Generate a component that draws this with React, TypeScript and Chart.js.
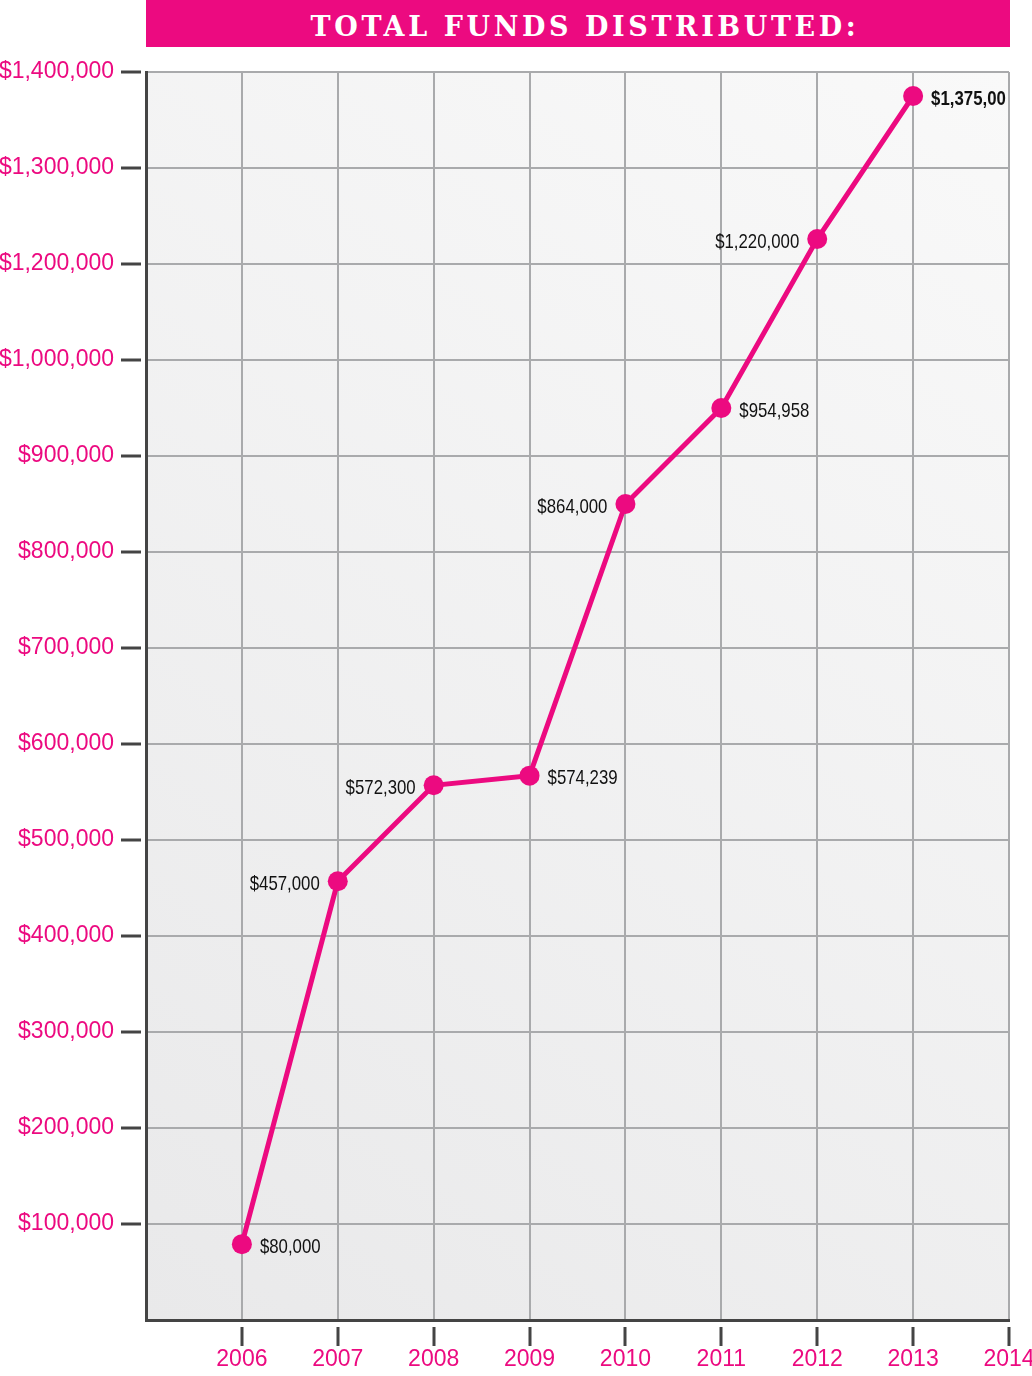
import React, { useEffect, useRef } from "react";
import { Chart, registerables } from "chart.js";

Chart.register(...registerables);

// ---- data ----
const years = [2006, 2007, 2008, 2009, 2010, 2011, 2012, 2013];
// positions, in the axis' own (linear) units
const plottedValues = [79000, 457000, 557000, 567000, 850000, 950000, 1126000, 1275000];
// annotation texts as printed on the chart
const valueLabels = [
  "$80,000",
  "$457,000",
  "$572,300",
  "$574,239",
  "$864,000",
  "$954,958",
  "$1,220,000",
  "$1,375,00",
];
const labelSides = ["right", "left", "left", "right", "left", "right", "left", "right"];
// tick labels exactly as printed (note: the original skips $1,100,000)
const yTickLabels = [
  "$100,000",
  "$200,000",
  "$300,000",
  "$400,000",
  "$500,000",
  "$600,000",
  "$700,000",
  "$800,000",
  "$900,000",
  "$1,000,000",
  "$1,200,000",
  "$1,300,000",
  "$1,400,000",
];
const xTickLabels = ["2006", "2007", "2008", "2009", "2010", "2011", "2012", "2013", "2014"];

const PINK = "#ec0a80";
const GRID = "#a9aaac";
const AXIS = "#444444";

const bgPlugin = {
  id: "plotBg",
  beforeDraw(chart: any) {
    const { ctx, chartArea: a } = chart;
    if (!a) return;
    const g = ctx.createLinearGradient(a.right, a.top, a.left, a.bottom);
    g.addColorStop(0, "#f9f9f9");
    g.addColorStop(1, "#e9e9ea");
    ctx.save();
    ctx.fillStyle = g;
    ctx.fillRect(a.left, a.top, a.right - a.left, a.bottom - a.top);
    ctx.restore();
  },
};

const labelPlugin = {
  id: "valueLabels",
  afterDatasetsDraw(chart: any) {
    const { ctx } = chart;
    const meta = chart.getDatasetMeta(0);
    meta.data.forEach((pt: any, i: number) => {
      const bold = i === valueLabels.length - 1;
      const side = labelSides[i];
      const dx = side === "right" ? 18 : -18;
      ctx.save();
      ctx.fillStyle = "#111111";
      ctx.textBaseline = "middle";
      ctx.font = `${bold ? "bold " : ""}21px "Liberation Sans", Arial, sans-serif`;
      ctx.textAlign = side === "right" ? "left" : "right";
      ctx.translate(pt.x + dx, pt.y + 3);
      ctx.scale(0.8, 1);
      ctx.fillText(valueLabels[i], 0, 0);
      ctx.restore();
    });
  },
};

function FundsChart() {
  const ref = useRef<HTMLCanvasElement | null>(null);
  useEffect(() => {
    if (!ref.current) return;
    const chart = new Chart(ref.current, {
      type: "line",
      data: {
        datasets: [
          {
            data: years.map((y, i) => ({ x: y, y: plottedValues[i] })),
            borderColor: PINK,
            backgroundColor: PINK,
            borderWidth: 5,
            pointRadius: 10,
            pointBackgroundColor: PINK,
            pointBorderWidth: 0,
            tension: 0,
            clip: false as any,
          },
        ],
      },
      options: {
        animation: false,
        responsive: false,
        devicePixelRatio: 1,
        layout: { padding: { top: 72, right: 23, left: 0, bottom: 0 } },
        plugins: {
          legend: { display: false },
          tooltip: { enabled: false },
          title: { display: false },
        },
        scales: {
          x: {
            type: "linear",
            min: 2005,
            max: 2014,
            afterFit: (s: any) => {
              s.height = 56;
              s.paddingLeft = 0;
              s.paddingRight = 0;
            },
            grid: {
              color: GRID,
              lineWidth: 2,
              drawTicks: true,
              tickLength: 26,
              tickWidth: 3,
              tickColor: (c: any) => (c.tick && c.tick.value === 2005 ? "rgba(0,0,0,0)" : AXIS),
              tickBorderDash: [0, 5, 20, 100],
            } as any,
            border: { color: AXIS, width: 3 },
            ticks: {
              stepSize: 1,
              autoSkip: false,
              maxRotation: 0,
              padding: 0,
              color: PINK,
              font: { family: '"Liberation Sans", Arial, sans-serif', size: 23 },
              callback: (v: any) => {
                const idx = Math.round(Number(v)) - 2006;
                return idx >= 0 ? xTickLabels[idx] : "";
              },
            },
          },
          y: {
            type: "linear",
            min: 0,
            max: 1300000,
            afterFit: (s: any) => {
              s.width = 146;
              s.paddingTop = 0;
              s.paddingBottom = 0;
            },
            grid: {
              color: GRID,
              lineWidth: 2,
              drawTicks: true,
              tickLength: 25,
              tickWidth: 3,
              tickColor: (c: any) => (c.tick && c.tick.value === 0 ? "rgba(0,0,0,0)" : AXIS),
              tickBorderDash: [20, 100],
            } as any,
            border: { color: AXIS, width: 3 },
            ticks: {
              stepSize: 100000,
              autoSkip: false,
              padding: 7,
              color: PINK,
              font: { family: '"Liberation Sans", Arial, sans-serif', size: 23 },
              callback: (v: any) => {
                const idx = Math.round(Number(v) / 100000) - 1;
                return idx >= 0 ? yTickLabels[idx] : "";
              },
            },
          },
        },
      },
      plugins: [bgPlugin, labelPlugin],
    });
    return () => chart.destroy();
  }, []);
  return <canvas ref={ref} width={1032} height={1376} style={{ display: "block" }} />;
}

export default function App() {
  return (
    <div style={{ position: "absolute", left: 0, top: 0, width: 1032, height: 1376, background: "#ffffff" }}>
      <FundsChart />
      <div
        style={{
          position: "absolute",
          left: 146,
          top: 0,
          width: 864,
          height: 47,
          background: PINK,
          color: "#ffffff",
          fontFamily: '"DejaVu Serif", "Liberation Serif", serif',
          fontWeight: "bold",
          fontSize: 27,
          letterSpacing: 3.6,
          lineHeight: "53px",
          textAlign: "center",
          paddingLeft: 14,
          boxSizing: "border-box",
          whiteSpace: "nowrap",
          overflow: "hidden",
        }}
      >
        TOTAL FUNDS DISTRIBUTED:
      </div>
    </div>
  );
}
